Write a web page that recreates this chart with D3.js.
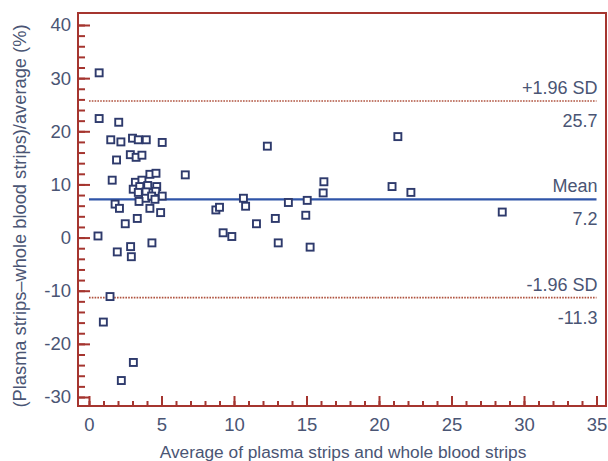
<!DOCTYPE html>
<html>
<head>
<meta charset="utf-8">
<script src="https://cdn.jsdelivr.net/npm/d3@7"></script>
<style>
  html, body { margin: 0; padding: 0; background: #ffffff; }
  svg { display: block; }
  text { font-family: "Liberation Sans", Arial, sans-serif; }
</style>
</head>
<body>
<svg id="chart" width="608" height="461"></svg>
<script>
// ---- data ----
const avgValues = [
  0.7, 0.7, 2.05, 1.5, 2.2, 3.0, 3.4, 3.95, 5.05, 1.9, 2.85, 3.25, 3.65, 1.6,
  4.2, 4.62, 6.64, 3.2, 3.65, 3.05, 3.5, 4.05, 4.67, 3.4, 3.93, 4.6, 3.9, 4.32,
  5.05, 3.45, 4.55, 1.8, 2.1, 4.2, 4.94, 3.33, 2.5, 0.62, 4.34, 1.95, 2.87, 2.92,
  1.45, 0.99, 3.06, 2.23,
  12.3, 16.2, 16.15, 10.65, 10.8, 8.75, 9.0, 13.75, 15.05, 14.95, 12.85, 11.55,
  9.25, 9.85, 13.05, 15.25,
  21.3, 20.9, 22.2, 28.5
];
const diffValues = [
  31.0, 22.4, 21.7, 18.4, 18.0, 18.7, 18.4, 18.4, 17.9, 14.6, 15.6, 15.1, 15.5, 10.8,
  11.9, 12.1, 11.8, 10.4, 10.8, 9.1, 9.6, 9.8, 9.6, 8.5, 8.6, 8.7, 7.4, 7.8,
  7.8, 6.8, 7.2, 6.3, 5.5, 5.5, 4.7, 3.6, 2.6, 0.3, -1.0, -2.7, -1.7, -3.6,
  -11.1, -15.9, -23.5, -26.9,
  17.2, 10.5, 8.4, 7.4, 5.9, 5.2, 5.7, 6.6, 7.0, 4.2, 3.6, 2.6,
  0.9, 0.2, -1.0, -1.8,
  19.0, 9.6, 8.5, 4.8
];
const refNames  = ["+1.96 SD", "Mean", "-1.96 SD"];
const refValues = [25.7, 7.2, -11.3];
const refLabels = ["25.7", "7.2", "-11.3"];
const xTicks = [0, 5, 10, 15, 20, 25, 30, 35];
const yTicks = [-30, -20, -10, 0, 10, 20, 30, 40];
const xTitle = "Average of plasma strips and whole blood strips";
const yTitle = "(Plasma strips\u2013whole blood strips)/average (%)";

// ---- layout ----
const frame = { left: 78, right: 606, top: 13, bottom: 406 };
const x = d3.scaleLinear().domain([0, 35]).range([89, 596.5]);
const y = d3.scaleLinear().domain([-30, 40]).range([397, 25]);

const axisColor = "#a5352f";
const textColor = "#4a5574";
const pointColor = "#2e3a6c";
const fmt = d => String(d);

const svg = d3.select("#chart");

// reference lines (drawn under points)
const refG = svg.append("g");
refValues.forEach((v, i) => {
  const isMean = refNames[i] === "Mean";
  refG.append("line")
    .attr("x1", x(0)).attr("x2", x(35))
    .attr("y1", y(v)).attr("y2", y(v))
    .attr("stroke", isMean ? "#2f55a8" : "#b0533f")
    .attr("stroke-width", isMean ? 2.2 : 1.6)
    .attr("stroke-dasharray", isMean ? null : "1.6,1.2");
  refG.append("text")
    .attr("x", x(35) + 1).attr("y", y(v) - 7)
    .attr("text-anchor", "end")
    .attr("font-size", 18).attr("fill", textColor)
    .text(refNames[i]);
  refG.append("text")
    .attr("x", x(35) + 1).attr("y", y(v) + 26)
    .attr("text-anchor", "end")
    .attr("font-size", 18).attr("fill", textColor)
    .text(refLabels[i]);
});

// points
const pts = avgValues.map((a, i) => ({ a, d: diffValues[i] }));
svg.append("g").selectAll("rect").data(pts).join("rect")
  .attr("x", p => x(p.a) - 3.5)
  .attr("y", p => y(p.d) - 3.5)
  .attr("width", 7).attr("height", 7)
  .attr("fill", "#ffffff")
  .attr("stroke", pointColor)
  .attr("stroke-width", 1.9);

// frame
svg.append("rect")
  .attr("x", frame.left).attr("y", frame.top)
  .attr("width", frame.right - frame.left)
  .attr("height", frame.bottom - frame.top)
  .attr("fill", "none")
  .attr("stroke", axisColor)
  .attr("stroke-width", 2);

// y axis: minor, then major
const yMinor = d3.axisLeft(y).tickValues(d3.range(-30, 41, 2)).tickSize(-7).tickFormat("");
const yMajor = d3.axisLeft(y).tickValues(yTicks).tickSize(-12).tickPadding(7).tickFormat(fmt);
[yMinor, yMajor].forEach(ax => {
  const g = svg.append("g").attr("transform", `translate(${frame.left},0)`).call(ax);
  g.select(".domain").remove();
  g.selectAll("line").attr("stroke", axisColor).attr("stroke-width", 2);
  g.selectAll("text").attr("font-size", 18.5).attr("fill", textColor)
    .attr("font-family", "Liberation Sans, Arial, sans-serif");
});

// x axis: minor, then major
const xMinor = d3.axisBottom(x).tickValues(d3.range(0, 36, 1)).tickSize(-5).tickFormat("");
const xMajor = d3.axisBottom(x).tickValues(xTicks).tickSize(-10).tickPadding(12).tickFormat(fmt);
[xMinor, xMajor].forEach(ax => {
  const g = svg.append("g").attr("transform", `translate(0,${frame.bottom})`).call(ax);
  g.select(".domain").remove();
  g.selectAll("line").attr("stroke", axisColor).attr("stroke-width", 2);
  g.selectAll("text").attr("font-size", 18.5).attr("fill", textColor)
    .attr("font-family", "Liberation Sans, Arial, sans-serif");
});

// titles
svg.append("text")
  .attr("x", 343).attr("y", 458)
  .attr("text-anchor", "middle")
  .attr("font-size", 17.3).attr("fill", textColor)
  .text(xTitle);

svg.append("text")
  .attr("transform", "translate(26,216) rotate(-90)")
  .attr("text-anchor", "middle")
  .attr("font-size", 18.3).attr("fill", textColor)
  .text(yTitle);
</script>
</body>
</html>
